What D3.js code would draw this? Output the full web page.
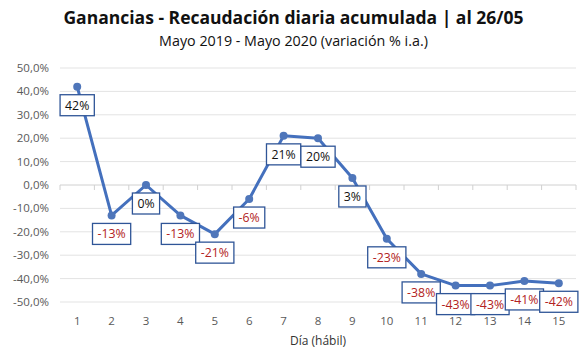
<!DOCTYPE html>
<html>
<head>
<meta charset="utf-8">
<script src="https://cdn.jsdelivr.net/npm/d3@7"></script>
<style>
  body { margin: 0; background: #fff; }
  svg text { font-family: "Open Sans", "Noto Sans", sans-serif; }
</style>
</head>
<body>
<svg id="chart" width="587" height="354"></svg>
<script>
const days   = [1, 2, 3, 4, 5, 6, 7, 8, 9, 10, 11, 12, 13, 14, 15];
const values = [42, -13, 0, -13, -21, -6, 21, 20, 3, -23, -38, -43, -43, -41, -42];
const yTicks = [50, 40, 30, 20, 10, 0, -10, -20, -30, -40, -50];

const svg = d3.select('#chart');
const W = 587, H = 354;
const m = { left: 60, right: 11, top: 68, bottom: 52 };

const x = d3.scaleBand().domain(days).range([m.left, W - m.right]);
const y = d3.scaleLinear().domain([-50, 50]).range([H - m.bottom, m.top]);
const cx = d => x(d) + x.bandwidth() / 2;

// titles
svg.append('text').attr('x', W / 2).attr('y', 24).attr('text-anchor', 'middle')
  .attr('font-size', 17.5).attr('font-weight', 'bold').attr('fill', '#111')
  .text('Ganancias - Recaudación diaria acumulada | al 26/05');
svg.append('text').attr('x', W / 2).attr('y', 46).attr('text-anchor', 'middle')
  .attr('font-size', 14.3).attr('fill', '#111')
  .text('Mayo 2019 - Mayo 2020 (variación % i.a.)');

// grid
svg.append('g').selectAll('line').data(yTicks.filter(t => t !== 0)).join('line')
  .attr('x1', m.left).attr('x2', W - m.right)
  .attr('y1', d => y(d)).attr('y2', d => y(d))
  .attr('stroke', '#e3e3e3').attr('stroke-width', 1);

// y labels
svg.append('g').selectAll('text').data(yTicks).join('text')
  .attr('x', 49).attr('y', d => y(d) + 4).attr('text-anchor', 'end')
  .attr('font-size', 11.5).attr('fill', '#595959')
  .text(d => d.toFixed(1).replace('.', ',') + '%');

// zero axis with tick marks at category boundaries
svg.append('line').attr('x1', m.left).attr('x2', W - m.right)
  .attr('y1', y(0)).attr('y2', y(0)).attr('stroke', '#d0d0d0');
svg.append('g').selectAll('line').data(d3.range(days.length + 1)).join('line')
  .attr('x1', i => m.left + i * x.step()).attr('x2', i => m.left + i * x.step())
  .attr('y1', y(0)).attr('y2', y(0) + 5).attr('stroke', '#d0d0d0');

// x labels
svg.append('g').selectAll('text').data(days).join('text')
  .attr('x', d => cx(d)).attr('y', H - m.bottom + 23).attr('text-anchor', 'middle')
  .attr('font-size', 11.5).attr('fill', '#595959').text(d => d);
svg.append('text').attr('x', 318).attr('y', H - 9).attr('text-anchor', 'middle')
  .attr('font-size', 12).attr('fill', '#333').text('Día (hábil)');

// line
const pts = days.map((d, i) => ({ d, v: values[i] }));
svg.append('path').datum(pts)
  .attr('fill', 'none').attr('stroke', '#4470bd').attr('stroke-width', 3)
  .attr('stroke-linejoin', 'round')
  .attr('d', d3.line().x(p => cx(p.d)).y(p => y(p.v)));
svg.append('g').selectAll('circle').data(pts).join('circle')
  .attr('cx', p => cx(p.d)).attr('cy', p => y(p.v)).attr('r', 4)
  .attr('fill', '#4f76ba');

// data labels
const lab = svg.append('g').selectAll('g').data(pts).join('g')
  .attr('transform', p => `translate(${cx(p.d)},${y(p.v) + 18.5})`);
lab.append('text')
  .attr('text-anchor', 'middle').attr('y', 4.5)
  .attr('font-size', 12.3).attr('fill', p => p.v < 0 ? '#b22222' : '#111')
  .text(p => p.v + '%');
lab.each(function () {
  const g = d3.select(this);
  const bb = g.select('text').node().getBBox();
  g.insert('rect', 'text')
    .attr('x', bb.x - 5).attr('y', -10.5).attr('width', bb.width + 10).attr('height', 21)
    .attr('fill', '#fff').attr('stroke', '#2f5597').attr('stroke-width', 1.3);
});
</script>
</body>
</html>
